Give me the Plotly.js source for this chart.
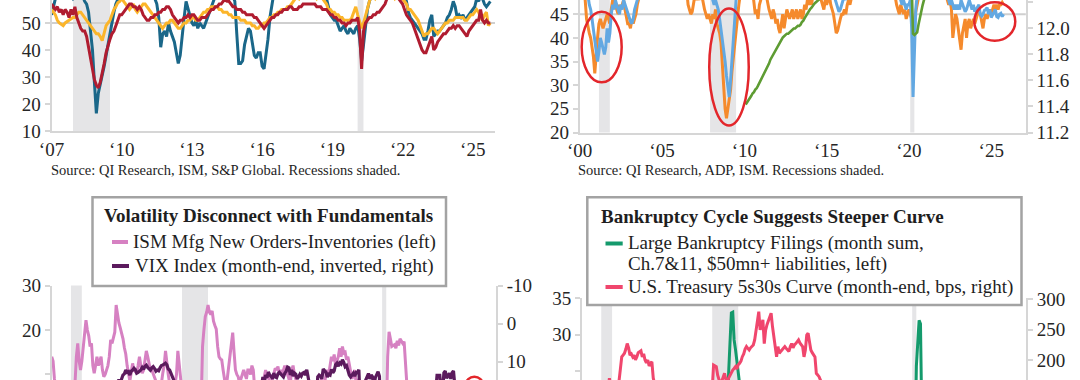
<!DOCTYPE html>
<html>
<head>
<meta charset="utf-8">
<script src="https://cdn.plot.ly/plotly-3.0.1.min.js"></script>
<style>html,body{margin:0;padding:0;background:#fff;}#chart{width:1080px;height:380px;}</style>
</head>
<body>
<div id="chart"></div>
<script>
// ---------------- DATA ----------------
// Top-left panel (monthly, from Jan 2007)
const tlStart = [2007, 1];
const tlTeal = [
53,56,60,62,61,60,61,60,62,61,60,59,
60,61,60,62,60,58,57,54,47,40,28,16.5,
24,27,31,34,38,42,47,51,54,57,59,61,
62,61,60,62,63,61,60,62,63,61,62,60,
61,62,63,60,61,59,57,52,41,46,47,45,
50,47,45,43,39,35,38,46,52,58,55,53,
50,49,51,48,50,49,48,50,52,54,56,58,
61,62,60,61,63,62,64,62,61,60,58,46,
35,35,36,42,45,48,47,42,38,37,39,39,
34,33,38,44,52,58,61,60,62,61,62,63,
62,63,61,62,60,63,64,62,61,63,62,61,
62,63,61,60,62,63,61,60,60,59,56,53,
52,51,51,49,47,48,49,47,46,48,47,46,
48,49,44,36,42,50,55,58,60,62,61,62,
62,63,61,64,63,62,61,60,62,61,60,62,
61,60,58,54,52,51,50,49,48,47,46,44,
44,47,51,53,45,46,47,47,48,49,50,52,
53,55,58,56,52,53,52,53,51,52,53,54,
55,56,59,58,60,59,57,56,57,58];
const tlYellow = [
55,54,53,51,50,49.5,49,50,50.5,51,51.5,52,
52,53,54,54,53,52,51,50,49,48,47,46,
46,45,43.5,46,49,50,51,53,55,56,57.5,58,
59,58,57,56,55,56,57,55,54,55,56,57,
57,56,55,54,53,52,51,50,49,48,49,50,
50,51,51,50,49,48,48,49,50,50,51,51,
52,52,51,51,52,53,54,54,55,55,56,56,
56,56,55,55,54,54,54,53,53,52,52,52,
52,51,51,51,50,50,50,49,49,48,48,49,
49,50,50,51,52,52,53,53,54,54,55,55,
55,56,56,57,58,59,60,59,60,61,60,60,
61,60,61,60,59,60,60,59,58,57,55,55,
54,54,53,53,52,52,51,51,51,51,52,54,
56,53,50,48,50,53,56,58,60,60,59,60,
61,62,63,62,61,60,61,60,59,60,61,60,
59,58,57,55,55,54,53,52,51,49,47,45,
46,46,47,48,48,47,46,47,48,49,50,50,
51,51,51,52,52,52,52,52,51,51,52,53,
53,54,55,54,52,51,53,54,49,50];
const tlRed = [
57,56,55,56,54,55,53,55,54,52,55,53,
56,52,50,48,47,47,45,41,37,32,29,27,
26,28,31,35,39,42,44,46,47,49,51,53,
53,54,55,56,57,57,56,56,55,56,55,53,
52,51,51,52,52,53,53,54,54,55,55,56,
56,55,53,52,51,50,51,51,52,52,53,52,
53,53,52,51,51,52,52,52,53,54,55,55,
56,56,57,57,58,58.5,58,58,57,56,56,55,
55,55,54,54,53,53,53,53,52,52,51,50,
49,48,49,50,51,52,52,53,53,54,54,55,
55,55,56,56,55,55,55,56,56,57,57,57,
57,57,57,57,56,56,56,55,55,55,54,53,
53,52,52,51,51,50,50,49,50,50,51,51,
51,52,47,33,47,50,51,52,52,53,53,54,
54,55,56,57,59,61,62,62,61,60,59,58,
57,55,53,52,51,50,48,46,44,42,40,39,
39,41,43,45,40,41,43,44,45,46,46,47,
48,48,49,48,49,49,48,47,46,45,47,48,
49,50,51,51,55,51,50,51,50,50];
const tlTickVals = [2007, 2010, 2013, 2016, 2019, 2022, 2025];
const tlTickText = ['‘07', '‘10', '‘13', '‘16', '‘19', '‘22', '‘25'];

// Top-right panel (monthly, from Jan 2000; green from Feb 2010)
const trStart = [2000, 1];
const trOrange = [
52,51,50,49,48,44,42,41,40,38,36,32.5,
37,40,43,44,43,42,43,44,45,44,43,46,
48,47,47,46,45,47,46,47,48,46,44,43,
43,42,44,43,44,45,47,48,49,50,51,52,
53,55,57,58,59,58,57,56,57,56,55,57,
55,53,54,52,50,49,51,52,53,54,55,53,
52,54,53,51,50,49,50,47,46,45,45.5,48,
49,48,49,48,50,49,47,46,45,44,45,44,
43,45,44,46,43,42,41,39,34,30,25,23,
25,27,29,33,36,39,42,45,47,49,51,52,
53,54,55,56,55,54,50,47,45,46,44,47,
48,50,53,52,49,47,46,45,44,46,45,43,
44,42,41,43,45,42,44,46,45,44,45,46,
44,45,46,44,45,46,44,45,47,46,48,47,
48,47,49,50,51,49,50,52,48,47,46,48,
47,48,49,47,46,45,43,41,41.5,43,44,45,
45,46,45,47,48,47,49,50,51,52,53,54,
55,56,57,58,57,56,58,57,59,58,57,58,
57,58,59,57,56,58,57,56,55,57,56,57,
52,50,48,47,46,45,47,46,45,46,44,45,
46,45,44,43,44,46,48,50,51,52,53,52,
53,54,55,56,55,54,55,56,57,56,55,54,
52,51,50,49,48,47,48,46,40,43,45,44,
42,40,37.5,41,43,44,40,43,44,42,43,44,
43,44,45,46,45,43,42,44,45,44,45,46,
45,46,47,46,47,46,47,47,47.5,47];
const trBlue = [
55,54,53,52,51,50,49,47,46,44,42,40,
38,35,37,40,39,38,36.5,38,42,39,41,45,
47,46,48,47,46,45,47,46,48,47,46,45,
44,43.5,43,44,46,47,48,50,52,54,55,56,
57,58,59,58,57,58,59,60,58,57,58,59,
58,57,58,59,57,56,57,58,57,56,57,58,
57,56,55,56,57,55,54,56,55,54,53,54,
53,54,52,53,51,52,53,52,51,50,51,50,
49,48,47,48,47,46,44,42,40,37,35,32,
30,27.5,31,35,40,45,48,50,52,53,54,55,
53,54,55,56,55,54,53,52,53,54,55,56,
55,56,57,56,55,54,53,52,51,52,53,54,
53,52,51,50,51,52,50,49,51,52,53,52,
52,53,54,53,52,53,54,55,56,55,54,53,
54,55,56,57,56,55,56,57,58,57,56,55,
54,53,52,51,50,49,48,47,46,45.5,46,47,
48,49,48,50,51,52,53,54,55,54,53,54,
55,56,57,56,55,56,57,58,57,56,57,58,
57,58,59,58,57,56,57,58,57,56,55,56,
54,53,52,51,50,49,48,47,48,47,46,47,
47,48,42,27.5,38,46,49,51,52,53,54,55,
55,56,57,58,57,56,55,56,57,56,55,54,
53,52,51,50,49,48,47,48,47,46,47,46,
47,46,48,47,46,45.5,46,47,48,47,46,47,
45.5,46,46.5,47,45,44.6,45,45.8,46,46.4,45,46,
44.3,45,45.5,46,44.5,44.3,45,45.2,44.5,45];
const trGreenStart = [2010, 2];
const trGreen = [
11.416,11.43,11.45,11.46,11.48,11.50,11.51,11.53,11.54,11.56,11.58,
11.60,11.62,11.64,11.66,11.69,11.71,11.73,11.76,11.78,11.80,11.82,11.84,
11.86,11.88,11.90,11.91,11.93,11.94,11.95,11.96,11.96,11.97,11.98,11.99,
12.00,12.00,12.01,12.02,12.02,12.03,12.05,12.06,12.08,12.10,12.12,12.14,
12.15,12.16,12.18,12.19,12.20,12.21,12.22,12.23,12.24,12.25,12.26,12.27,
12.28,12.29,12.29,12.30,12.31,12.32,12.32,12.33,12.33,12.34,12.35,12.35,
12.36,12.36,12.37,12.37,12.38,12.38,12.38,12.39,12.39,12.40,12.40,12.40,
12.41,12.41,12.41,12.42,12.42,12.42,12.43,12.43,12.43,12.44,12.44,12.44,
12.45,12.45,12.45,12.46,12.46,12.46,12.47,12.47,12.47,12.48,12.48,12.48,
12.48,12.49,12.49,12.49,12.49,12.50,12.50,12.50,12.50,12.51,12.51,12.51,
12.51,12.51,12.30,11.96,11.95,11.96,11.97,12.03,12.09,12.14,12.18,12.22,
12.25,12.27,12.29,12.31,12.33,12.35,12.37,12.39,12.40,12.41,12.42,12.43,
12.44,12.45,12.46,12.47,12.47,12.48,12.48,12.49,12.49,12.50,12.50,12.50,
12.51,12.51,12.52,12.52,12.52,12.53,12.53,12.53,12.54,12.54,12.54,12.55,
12.55,12.55,12.56,12.56,12.56,12.56,12.57,12.57,12.57,12.57,12.58,12.58,
12.58,12.58,12.58,12.59,12.59,12.59,12.59,12.59,12.59,12.60];
const trTickVals = [2000, 2005, 2010, 2015, 2020, 2025];
const trTickText = ['‘00', '‘05', '‘10', '‘15', '‘20', '‘25'];

// Bottom-left panel (monthly, from Jan 2000)
const blStart = [2000, 1];
const blPink = [
14,13,9,5,3,2,0,1,-2,-3,-4,-6,
-5,-2,1,3,5,8,14,17,13,11,13,16,
20,22.2,20,18.7,16.3,17,12,10.3,12,14,12,13,
14,11,9.5,10,11,12,14,17.8,17,18,19.5,25.6,
23,21.6,20.5,19.5,18,16,14.6,12,10,8.5,10.5,12.5,
11,10.5,10.3,12,14,12,10.3,11,13,15.3,14,12.5,
11,11,10.3,9.5,8.5,7,6,7,8,10.3,12,15.3,
12,10,8,6,7,9,8,10,15.3,9,7,5,
-2,-5,-3,-6,-4,-8,-10,-12,-15,-20,-25,-20,
-10,5,16.3,20,23,24,25.6,24,23.5,24.3,22,21,
20.2,16.3,14,13.5,13.3,11,8.8,7,9,12,15,17,
19.4,15,11,10,9.5,8,9,10.5,11,10,9,11,
11,10,12,11,9,3,-2,0,2,5,8,10,
11,9,10,8,7,9,10,11.4,11,11.8,10,11,
10,11,12,11,10,9,8,11,12,10,9,8,
5,3,2,0,1,2,-1,0,-2,1,3,2,
3,5,7,6,8,9,7,8,10,11,10,12,
14,13,14.5,12,13,14,15.9,14,16.3,14.8,15,13.3,
14,12,10.3,9,10,11,8,9,7,5,2,-3,
-5,-2,-3,-4,-5,-6,-4,-3,-5,-2,-1,0,
2,3,-2,-12,0,14,19.6,18,16.3,16.5,16.7,15.9,
17.6,16.5,18,17.5,17,17.4,8,5,3,2,1,0,
-2,-4,-3,-5,-8,-10,-12,-8,-10,-12,-10,-8,
-10,-8,-6,-5,-7,-9,-5,-4,-3,-2,-4,-3,
-1,0,2,-2,-5,-3,-6,-4,-3,-2,1,3,
1,-8,-4,-3,-2,-4,-1,-2,-1];
const blPurple = [
24.95,23.4,24.1,26.2,23.65,19.5,20.7,17.6,20.6,25.1,29.2,26.85,
22.7,28.0,28.6,23.9,21.6,19.1,21.6,24.9,31.9,33.6,22.75,23.8,
21.1,21.6,17.4,21.9,19.98,25.4,32.0,32.6,39.7,31.1,27.5,28.6,
31.2,29.6,29.2,21.2,19.5,19.5,19.5,19.4,22.7,16.1,16.3,18.3,
16.6,14.6,15.5,14.5,13.5,13.2,12.2,12.8,12.6,13.5,12.5,12.2,
11.7,12.1,13.0,12.8,12.5,12.2,11.5,12.0,11.2,10.9,11.5,11.9,
12.2,11.6,11.3,11.8,12.5,12.2,12.4,11.6,11.0,10.9,10.6,10.4,
10.8,11.9,12.2,13.0,14.0,14.8,23.5,23.4,18.0,18.5,22.9,22.5,
26.2,26.5,25.6,20.8,17.8,23.95,22.9,20.65,39.4,59.9,55.3,40.0,
44.8,46.35,44.1,36.5,28.9,26.35,25.9,26.0,25.6,30.7,24.5,21.7,
24.6,19.5,17.6,22.05,32.1,34.5,23.5,26.05,23.7,21.2,23.5,17.75,
19.5,18.35,17.7,16.75,15.45,16.5,25.25,31.6,42.96,29.96,27.8,23.4,
19.4,18.4,15.5,17.2,24.0,17.1,18.9,17.5,15.7,16.5,14.0,15.5,
13.5,14.2,12.7,13.5,13.8,14.5,13.0,14.0,14.2,13.2,12.8,13.2,
13.5,14.0,13.0,12.5,11.4,11.6,13.5,12.1,13.8,13.0,13.3,14.5,
14.0,13.3,13.8,13.0,12.8,13.5,12.1,13.5,16.0,15.1,16.1,18.2,
20.2,20.55,13.95,13.5,13.8,14.5,11.9,12.5,12.8,14.0,13.3,13.5,
11.99,12.9,12.4,10.8,10.4,11.2,10.3,10.6,9.5,10.2,11.3,11.0,
12.5,13.5,14.0,13.5,13.0,13.8,12.8,12.9,12.1,21.2,18.1,25.4,
16.6,14.8,13.7,13.1,14.5,13.5,14.0,16.5,14.2,13.2,12.6,13.8,
18.8,40.1,53.5,34.2,27.5,30.4,24.5,26.4,26.4,38.0,20.6,22.75,
33.1,27.95,19.4,18.6,16.8,15.8,18.2,16.5,23.1,16.3,27.2,17.2,
24.8,30.2,20.6,33.4,26.2,28.7,21.3,25.9,31.6,25.9,20.6,21.7,
19.4,20.7,18.7,15.8,17.9,13.6,13.6,13.6,17.5,18.1,12.9,12.45,
14.35,13.4,13.0,14.5,12.9,12.4,16.4,15.0,16.7,23.2,15.2,17.35,
16.4,19.6,22.3,24.7,18.6,16.7,16.7,15.4,16.3];
const blRightTickVals = [-10, 0, 10];
const blRightTickText = ['-10', '0', '10'];

// Bottom-right panel (monthly, from Jan 2000)
const brStart = [2000, 1];
const brGreen = [
10,12,11,13,12,14,15,13,14,16,15,17,
18,16,19,20,17,18,21,19,20,22,19,21,
20,18,19,17,16,18,17,15,16,14,15,13,
14,12,13,11,12,10,11,9,10,8,9,8,
7,6,8,5,6,4,5,6,5,4,6,5,
5,4,6,3,5,4,3,5,4,6,4,3,
3,4,2,3,4,3,2,4,3,2,3,4,
3,4,3,5,4,3,5,6,4,7,6,8,
9,10,12,11,10,13,12,14,15,17,20,24.8,
29,33,33.1,29.3,28,24.3,20,18,16,15,13,12,
11,9,10,8,7,8,6,7,5,6,5,6,
5,6,4,5,6,4,5,3,5,4,6,5,
4,5,6,4,5,3,4,5,4,3,5,4,
5,4,3,5,4,3,4,5,3,4,3,4,
3,4,3,2,4,3,2,3,4,3,2,3,
4,5,3,6,5,7,6,8,7,9,8,10,
11,12,14,13,12,10,11,9,8,10,7,8,
7,8,6,9,7,8,6,7,5,6,7,5,
6,5,7,6,4,5,6,7,5,6,4,5,
6,7,5,8,6,7,9,8,7,6,8,7,
8,9,10,14,25.7,29,32,31.5,18,14,12,10,
9,8,7,6,5,4,5,4,3,4,3,4,
3,4,5,4,3,5,6,5,7,6,8,7,
9,10,11,12,13,14,12,11,13,12,14,13,
12,13,11,14,12,13,11,12,10,13,11,12,
13,11,12,14,13,12,11,13,12];
const brRed = [
-20,-35,-50,-45,-40,-35,-30,-25,-20,-15,-10,5,
20,40,60,80,100,120,140,160,170,155,150,160,
155,150,160,165,185,205,208,211,218,227,220,208,
210,205,208,200,205,212,213.5,215,205,210,200,195,
200,190,195,197,170,155,150,140,135,125,115,105,
95,80,70,60,55,45,35,30,25,20,15,10,
10,5,0,5,10,8,5,3,2,5,8,10,
15,20,25,30,35,40,60,80,95,110,130,150,
191.6,190,189,175,165,160,165,172,178,168,160,170,
175,180,183.5,186,189,185,192,194.6,198,205.4,210,218,
222,219,216.5,220,222,224.7,233,249.4,260.5,279.6,249.4,260,
266,227,249,258,265,271,277,255,235,218,205,222,
211,214,216.5,220,222,219,216.5,214,222,227,220,225,
227,230,233,228,225,222,205,216.5,241,244,230,216.5,
212,208,205,178,175,172.5,167,160,150,145,140,130,
125,130,120,135,145,140,130,125,120,130,125,110,
100,105,100,110,105,95,90,95,100,110,115,90,
85,80,75,70,65,60,70,65,55,50,40,50,
50,45,40,30,25,20,15,20,25,30,25,15,
20,25,30,40,45,55,60,70,65,75,70,80,
85,95,110,120,125,130,140,130,120,125,120,115,
120,140,145,145,140,130,115,110,120,90,65,60,
55,35,5,15,15,5,0,-10,-10,-5,5,0,
-5,-20,10,10,-5,-10,-5,10,20,15,10,20,
30,20,25,15,20,10,20,35,45,50,40,50,
60,70,80,85,90,95,100,105,110];

// Recessions (start, end as decimal years)
const recStart = [2001.17, 2007.92, 2020.08];
const recEnd   = [2001.83, 2009.50, 2020.33];

// ---------------- HELPERS ----------------
function months(start, n) {
  const out = [];
  for (let i = 0; i < n; i++) out.push(start[0] + (start[1] - 1 + i) / 12);
  return out;
}
const W = 1080, H = 380;
const px = x => x / W;
const py = y => 1 - y / H;
const FONT = '"Liberation Serif", "Times New Roman", serif';
const TC = '#262626';
const LC = '#d6d6d6';
const TICKF = {family: FONT, size: 19, color: TC};

function ln(x, y, color, width, xa, ya) {
  return {type: 'scatter', mode: 'lines', x: x, y: y, xaxis: xa, yaxis: ya,
          line: {color: color, width: width}, hoverinfo: 'skip', showlegend: false};
}

const traces = [
  ln(months(tlStart, tlTeal.length), tlTeal, '#1a6789', 3, 'x', 'y'),
  ln(months(tlStart, tlYellow.length), tlYellow, '#fbb52a', 3, 'x', 'y'),
  ln(months(tlStart, tlRed.length), tlRed, '#b01c30', 3, 'x', 'y'),
  ln(months(trStart, trOrange.length), trOrange, '#f58a2c', 3, 'x2', 'y2'),
  ln(months(trStart, trBlue.length), trBlue, '#62a8e2', 3, 'x2', 'y2'),
  ln(months(trGreenStart, trGreen.length), trGreen, '#5e9c33', 2.6, 'x2', 'y5'),
  ln(months(blStart, blPink.length), blPink, '#d681c2', 3, 'x3', 'y3'),
  ln(months(blStart, blPurple.length), blPurple, '#5b1a5d', 3.2, 'x3', 'y6'),
  ln(months(brStart, brRed.length), brRed, '#f0466d', 3, 'x4', 'y7'),
  ln(months(brStart, brGreen.length), brGreen, '#149a6c', 3, 'x4', 'y4')
];

// ---------------- SHAPES ----------------
const shapes = [];
[['x','y'],['x2','y2'],['x3','y3'],['x4','y4']].forEach(([xa, ya]) => {
  recStart.forEach((s, i) => {
    shapes.push({type: 'rect', xref: xa, yref: ya + ' domain', x0: s, x1: recEnd[i], y0: 0, y1: 1,
                 fillcolor: '#e5e5e7', line: {width: 0}, layer: 'below'});
  });
});
shapes.push({type: 'line', xref: 'x domain', yref: 'y', x0: 0, x1: 1, y0: 50, y1: 50,
             line: {color: '#cfcfcf', width: 2}, layer: 'below'});
shapes.push({type: 'line', xref: 'x2 domain', yref: 'y2', x0: 0, x1: 1, y0: 45, y1: 45,
             line: {color: '#cfcfcf', width: 2}, layer: 'below'});
// red highlight ellipses
const RED = '#e3262b';
shapes.push({type: 'circle', xref: 'x2', yref: 'y2', x0: 2000.12, x1: 2002.55, y0: 30.6, y1: 45.5, line: {color: RED, width: 2.5}, layer: 'above'});
shapes.push({type: 'circle', xref: 'x2', yref: 'y2', x0: 2007.87, x1: 2010.27, y0: 21.5, y1: 46.2, line: {color: RED, width: 2.5}, layer: 'above'});
shapes.push({type: 'circle', xref: 'x2', yref: 'y2', x0: 2023.97, x1: 2026.46, y0: 39.4, y1: 47.55, line: {color: RED, width: 2.5}, layer: 'above'});
shapes.push({type: 'circle', xref: 'x3', yref: 'y3', x0: 2025.16, x1: 2026.21, y0: 5.84, y1: 9.5, line: {color: RED, width: 2.5}, layer: 'above'});
// legend boxes
shapes.push({type: 'rect', xref: 'paper', yref: 'paper', x0: px(92.5), x1: px(446), y0: py(286), y1: py(197.3),
             fillcolor: '#ffffff', line: {color: '#a3a3a3', width: 2.5}, layer: 'above'});
shapes.push({type: 'rect', xref: 'paper', yref: 'paper', x0: px(587.3), x1: px(1021.5), y0: py(305), y1: py(197.3),
             fillcolor: '#ffffff', line: {color: '#a3a3a3', width: 2.5}, layer: 'above'});
function sample(x0, x1, y, color) {
  shapes.push({type: 'line', xref: 'paper', yref: 'paper', x0: px(x0), x1: px(x1), y0: py(y), y1: py(y),
               line: {color: color, width: 4}, layer: 'above'});
}
sample(112, 128, 242, '#d681c2');
sample(112, 129, 266, '#5b1a5d');
sample(605.5, 622.7, 243.5, '#149a6c');
sample(605.5, 622.7, 287, '#f0466d');

// ---------------- ANNOTATIONS ----------------
function txt(x, y, text, size, anchor, bold) {
  return {xref: 'paper', yref: 'paper', x: px(x), y: py(y), xanchor: anchor || 'left', yanchor: 'middle',
          text: bold ? '<b>' + text + '</b>' : text, showarrow: false,
          font: {family: FONT, size: size, color: '#1e1e1e'}, borderpad: 0};
}
const annotations = [
  txt(50, 170, 'Source: QI Research, ISM, S&amp;P Global. Recessions shaded.', 14.5),
  txt(577, 170, 'Source: QI Research, ADP, ISM. Recessions shaded.', 14.5),
  txt(268, 215, 'Volatility Disconnect with Fundamentals', 19, 'center', true),
  txt(132, 241.5, 'ISM Mfg New Orders-Inventories (left)', 19),
  txt(133.5, 266, 'VIX Index (month-end, inverted, right)', 19),
  txt(599.5, 216.5, 'Bankruptcy Cycle Suggests Steeper Curve', 19, 'left', true),
  txt(627, 243, 'Large Bankruptcy Filings (month sum,', 19),
  txt(627, 264, 'Ch.7&amp;11, $50mn+ liabilities, left)', 19),
  txt(627, 286.5, 'U.S. Treasury 5s30s Curve (month-end, bps, right)', 19)
];

// ---------------- AXES ----------------
function yax(o) {
  return Object.assign({showline: true, linecolor: LC, linewidth: 2, showgrid: false, zeroline: false,
    ticks: 'outside', ticklen: 5, tickwidth: 2, tickcolor: LC, tickfont: TICKF, fixedrange: true}, o);
}
function xax(o) {
  return Object.assign({showline: true, linecolor: LC, linewidth: 2, showgrid: false, zeroline: false,
    ticks: '', tickfont: TICKF, fixedrange: true}, o);
}

const layout = {
  width: W, height: H,
  margin: {l: 0, r: 0, t: 0, b: 0},
  paper_bgcolor: '#ffffff', plot_bgcolor: 'rgba(0,0,0,0)',
  showlegend: false,
  xaxis: xax({domain: [px(51.5), px(495)], range: [2007, 2025.95], anchor: 'y',
              tickmode: 'array', tickvals: tlTickVals, ticktext: tlTickText}),
  yaxis: yax({domain: [py(131), 1], range: [10, 58.5], anchor: 'x', tickmode: 'array', tickvals: [10, 20, 30, 40, 50]}),
  xaxis2: xax({domain: [px(579.7), px(1025.8)], range: [2000, 2027.1], anchor: 'y2',
               tickmode: 'array', tickvals: trTickVals, ticktext: trTickText}),
  yaxis2: yax({domain: [py(132.5), 1], range: [20, 48], anchor: 'x2', tickmode: 'array', tickvals: [20, 25, 30, 35, 40, 45]}),
  yaxis5: yax({overlaying: 'y2', side: 'right', anchor: 'x2', range: [11.2, 12.219],
               tickmode: 'array', tickvals: [11.2, 11.4, 11.6, 11.8, 12.0, 12.2], tickformat: '.1f'}),
  xaxis3: xax({domain: [px(51.7), px(496)], range: [2000, 2027], anchor: 'y3', showline: false, showticklabels: false}),
  yaxis3: yax({domain: [0, py(285.5)], range: [8.76, 30], anchor: 'x3', tickmode: 'array', tickvals: [10, 20, 30]}),
  yaxis6: yax({overlaying: 'y3', side: 'right', anchor: 'x3', range: [14.8, -10], tickmode: 'array',
               tickvals: blRightTickVals, ticktext: blRightTickText}),
  xaxis4: xax({domain: [px(582), px(1026)], range: [2000, 2027], anchor: 'y4', showline: false, showticklabels: false}),
  yaxis4: yax({domain: [0, py(298)], range: [23.8, 35.05], anchor: 'x4', tickmode: 'array', tickvals: [25, 30, 35]}),
  yaxis7: yax({overlaying: 'y4', side: 'right', anchor: 'x4', range: [167, 302], tickmode: 'array', tickvals: [200, 250, 300]}),
  shapes: shapes,
  annotations: annotations
};

Plotly.newPlot('chart', traces, layout, {displayModeBar: false, staticPlot: true});
</script>
</body>
</html>
